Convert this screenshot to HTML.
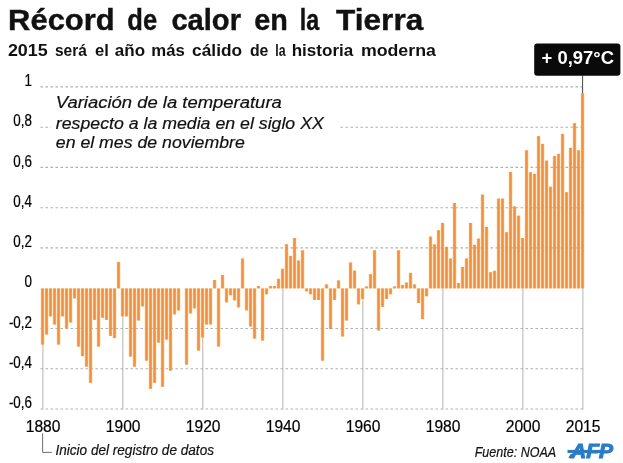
<!DOCTYPE html>
<html lang="es"><head><meta charset="utf-8"><title>Récord de calor en la Tierra</title>
<style>
html,body{margin:0;padding:0;background:#fff;}
body{width:623px;height:463px;overflow:hidden;position:relative;font-family:"Liberation Sans",sans-serif;}
svg{position:absolute;left:0;top:0;display:block;}
text{font-family:"Liberation Sans",sans-serif;fill:#111;}
.it{font-style:italic;stroke:#111;stroke-width:0.2;}
.lb{fill:#000;stroke:#000;stroke-width:0.2;}
.b{font-weight:bold;}
</style></head><body>
<svg width="623" height="463" viewBox="0 0 623 463">
<rect width="623" height="463" fill="#fff"/>

<g stroke="#b0b0b0" stroke-width="1.1" stroke-dasharray="2.5,2.5" fill="none">
<line x1="40.5" y1="86.9" x2="582" y2="86.9"/>
<line x1="40.5" y1="127.2" x2="584.5" y2="127.2"/>
<line x1="40.5" y1="167.4" x2="584.5" y2="167.4"/>
<line x1="40.5" y1="207.7" x2="584.5" y2="207.7"/>
<line x1="40.5" y1="247.9" x2="584.5" y2="247.9"/>
<line x1="40.5" y1="328.5" x2="584.5" y2="328.5"/>
<line x1="40.5" y1="368.7" x2="584.5" y2="368.7"/>
<line x1="40.5" y1="409.0" x2="584.5" y2="409.0"/>
</g>
<g stroke="#b2b2b2" stroke-width="1" fill="none">
<line x1="42.9" y1="344.6" x2="42.9" y2="409.4"/>
<line x1="122.8" y1="316.4" x2="122.8" y2="409.4"/>
<line x1="202.8" y1="337.5" x2="202.8" y2="409.4"/>
<line x1="282.9" y1="288.3" x2="282.9" y2="409.4"/>
<line x1="362.9" y1="299.0" x2="362.9" y2="409.4"/>
<line x1="442.9" y1="288.3" x2="442.9" y2="409.4"/>
<line x1="522.9" y1="288.3" x2="522.9" y2="409.4"/>
<line x1="582.9" y1="288.3" x2="582.9" y2="409.4"/>
</g>
<rect x="51" y="92" width="287" height="62" fill="#fff"/>
<g fill="#f8c068" opacity="0.45">
<rect x="40.53" y="288.4" width="4" height="56.2"/>
<rect x="44.53" y="288.4" width="4" height="46.1"/>
<rect x="48.53" y="288.4" width="4" height="28.0"/>
<rect x="52.53" y="288.4" width="4" height="36.1"/>
<rect x="56.53" y="288.4" width="4" height="56.2"/>
<rect x="60.53" y="288.4" width="4" height="28.0"/>
<rect x="64.53" y="288.4" width="4" height="40.1"/>
<rect x="68.53" y="288.4" width="4" height="34.1"/>
<rect x="72.53" y="288.4" width="4" height="10.0"/>
<rect x="76.53" y="288.4" width="4" height="58.2"/>
<rect x="80.53" y="288.4" width="4" height="67.8"/>
<rect x="84.53" y="288.4" width="4" height="78.3"/>
<rect x="88.53" y="288.4" width="4" height="94.4"/>
<rect x="92.53" y="288.4" width="4" height="31.5"/>
<rect x="96.53" y="288.4" width="4" height="58.2"/>
<rect x="100.53" y="288.4" width="4" height="29.4"/>
<rect x="104.53" y="288.4" width="4" height="31.5"/>
<rect x="108.53" y="288.4" width="4" height="47.5"/>
<rect x="112.53" y="288.4" width="4" height="49.7"/>
<rect x="116.53" y="261.9" width="4" height="26.5"/>
<rect x="120.53" y="288.4" width="4" height="28.0"/>
<rect x="124.53" y="288.4" width="4" height="28.0"/>
<rect x="128.53" y="288.4" width="4" height="68.2"/>
<rect x="132.53" y="288.4" width="4" height="78.3"/>
<rect x="136.53" y="288.4" width="4" height="32.1"/>
<rect x="140.53" y="288.4" width="4" height="18.0"/>
<rect x="144.53" y="288.4" width="4" height="72.3"/>
<rect x="148.53" y="288.4" width="4" height="100.4"/>
<rect x="152.53" y="288.4" width="4" height="94.4"/>
<rect x="156.53" y="288.4" width="4" height="54.2"/>
<rect x="160.53" y="288.4" width="4" height="98.4"/>
<rect x="164.53" y="288.4" width="4" height="51.2"/>
<rect x="168.53" y="288.4" width="4" height="82.3"/>
<rect x="172.53" y="288.4" width="4" height="26.0"/>
<rect x="176.53" y="288.4" width="4" height="22.0"/>
<rect x="184.53" y="288.4" width="4" height="76.3"/>
<rect x="188.53" y="288.4" width="4" height="25.0"/>
<rect x="192.53" y="288.4" width="4" height="20.0"/>
<rect x="196.53" y="288.4" width="4" height="62.2"/>
<rect x="200.53" y="288.4" width="4" height="49.1"/>
<rect x="204.53" y="288.4" width="4" height="36.1"/>
<rect x="208.53" y="288.4" width="4" height="36.1"/>
<rect x="212.53" y="280.0" width="4" height="8.4"/>
<rect x="216.53" y="288.4" width="4" height="58.2"/>
<rect x="220.53" y="275.0" width="4" height="13.4"/>
<rect x="224.53" y="288.4" width="4" height="14.0"/>
<rect x="228.53" y="288.4" width="4" height="6.9"/>
<rect x="232.53" y="288.4" width="4" height="12.0"/>
<rect x="236.53" y="288.4" width="4" height="19.0"/>
<rect x="240.53" y="258.5" width="4" height="29.9"/>
<rect x="244.53" y="288.4" width="4" height="22.0"/>
<rect x="248.53" y="288.4" width="4" height="38.1"/>
<rect x="252.53" y="288.4" width="4" height="50.2"/>
<rect x="256.53" y="286.0" width="4" height="2.4"/>
<rect x="260.53" y="288.4" width="4" height="52.2"/>
<rect x="264.53" y="288.4" width="4" height="5.9"/>
<rect x="268.53" y="286.0" width="4" height="2.4"/>
<rect x="272.53" y="286.0" width="4" height="2.4"/>
<rect x="276.53" y="278.8" width="4" height="9.6"/>
<rect x="280.53" y="268.8" width="4" height="19.6"/>
<rect x="284.53" y="244.2" width="4" height="44.2"/>
<rect x="288.53" y="255.9" width="4" height="32.5"/>
<rect x="292.53" y="238.0" width="4" height="50.4"/>
<rect x="296.53" y="260.5" width="4" height="27.9"/>
<rect x="300.53" y="250.3" width="4" height="38.1"/>
<rect x="304.53" y="288.4" width="4" height="2.9"/>
<rect x="308.53" y="288.4" width="4" height="5.9"/>
<rect x="312.53" y="288.4" width="4" height="11.6"/>
<rect x="316.53" y="288.4" width="4" height="11.6"/>
<rect x="320.53" y="288.4" width="4" height="72.3"/>
<rect x="324.53" y="284.4" width="4" height="4.0"/>
<rect x="328.53" y="288.4" width="4" height="40.7"/>
<rect x="332.53" y="288.4" width="4" height="11.6"/>
<rect x="336.53" y="280.4" width="4" height="8.0"/>
<rect x="340.53" y="288.4" width="4" height="48.1"/>
<rect x="344.53" y="288.4" width="4" height="32.1"/>
<rect x="348.53" y="262.5" width="4" height="25.9"/>
<rect x="352.53" y="270.6" width="4" height="17.8"/>
<rect x="356.53" y="288.4" width="4" height="16.0"/>
<rect x="360.53" y="288.4" width="4" height="10.6"/>
<rect x="364.53" y="286.4" width="4" height="2.0"/>
<rect x="368.53" y="274.2" width="4" height="14.2"/>
<rect x="372.53" y="250.3" width="4" height="38.1"/>
<rect x="376.53" y="288.4" width="4" height="42.1"/>
<rect x="380.53" y="288.4" width="4" height="18.4"/>
<rect x="384.53" y="288.4" width="4" height="10.6"/>
<rect x="388.53" y="288.4" width="4" height="5.9"/>
<rect x="392.53" y="286.4" width="4" height="2.0"/>
<rect x="396.53" y="250.3" width="4" height="38.1"/>
<rect x="400.53" y="285.0" width="4" height="3.4"/>
<rect x="404.53" y="282.6" width="4" height="5.8"/>
<rect x="408.53" y="272.8" width="4" height="15.6"/>
<rect x="412.53" y="284.4" width="4" height="4.0"/>
<rect x="416.53" y="288.4" width="4" height="14.6"/>
<rect x="420.53" y="288.4" width="4" height="30.7"/>
<rect x="424.53" y="288.4" width="4" height="7.9"/>
<rect x="428.53" y="236.6" width="4" height="51.8"/>
<rect x="432.53" y="244.4" width="4" height="44.0"/>
<rect x="436.53" y="230.2" width="4" height="58.2"/>
<rect x="440.53" y="222.9" width="4" height="65.5"/>
<rect x="444.53" y="246.8" width="4" height="41.6"/>
<rect x="448.53" y="258.5" width="4" height="29.9"/>
<rect x="452.53" y="203.0" width="4" height="85.4"/>
<rect x="456.53" y="283.0" width="4" height="5.4"/>
<rect x="460.53" y="266.9" width="4" height="21.5"/>
<rect x="464.53" y="258.5" width="4" height="29.9"/>
<rect x="468.53" y="222.9" width="4" height="65.5"/>
<rect x="472.53" y="244.8" width="4" height="43.6"/>
<rect x="476.53" y="238.6" width="4" height="49.8"/>
<rect x="480.53" y="194.6" width="4" height="93.8"/>
<rect x="484.53" y="226.9" width="4" height="61.5"/>
<rect x="488.53" y="272.2" width="4" height="16.2"/>
<rect x="492.53" y="270.8" width="4" height="17.6"/>
<rect x="496.53" y="198.6" width="4" height="89.8"/>
<rect x="500.53" y="198.6" width="4" height="89.8"/>
<rect x="504.53" y="232.2" width="4" height="56.2"/>
<rect x="508.53" y="171.9" width="4" height="116.5"/>
<rect x="512.53" y="206.4" width="4" height="82.0"/>
<rect x="516.53" y="215.7" width="4" height="72.7"/>
<rect x="520.53" y="238.0" width="4" height="50.4"/>
<rect x="524.53" y="150.2" width="4" height="138.2"/>
<rect x="528.53" y="172.3" width="4" height="116.1"/>
<rect x="532.53" y="173.9" width="4" height="114.5"/>
<rect x="536.53" y="136.1" width="4" height="152.3"/>
<rect x="540.53" y="143.9" width="4" height="144.5"/>
<rect x="544.53" y="160.6" width="4" height="127.8"/>
<rect x="548.53" y="186.7" width="4" height="101.7"/>
<rect x="552.53" y="156.0" width="4" height="132.4"/>
<rect x="556.53" y="153.8" width="4" height="134.6"/>
<rect x="560.53" y="133.9" width="4" height="154.5"/>
<rect x="564.53" y="192.2" width="4" height="96.2"/>
<rect x="568.53" y="147.8" width="4" height="140.6"/>
<rect x="572.53" y="123.2" width="4" height="165.2"/>
<rect x="576.53" y="150.2" width="4" height="138.2"/>
<rect x="580.53" y="93.1" width="4" height="195.3"/>
</g>
<g fill="#ee8f43">
<rect x="41.25" y="288.4" width="2.55" height="56.2"/>
<rect x="45.25" y="288.4" width="2.55" height="46.1"/>
<rect x="49.25" y="288.4" width="2.55" height="28.0"/>
<rect x="53.25" y="288.4" width="2.55" height="36.1"/>
<rect x="57.25" y="288.4" width="2.55" height="56.2"/>
<rect x="61.25" y="288.4" width="2.55" height="28.0"/>
<rect x="65.25" y="288.4" width="2.55" height="40.1"/>
<rect x="69.25" y="288.4" width="2.55" height="34.1"/>
<rect x="73.25" y="288.4" width="2.55" height="10.0"/>
<rect x="77.25" y="288.4" width="2.55" height="58.2"/>
<rect x="81.25" y="288.4" width="2.55" height="67.8"/>
<rect x="85.25" y="288.4" width="2.55" height="78.3"/>
<rect x="89.25" y="288.4" width="2.55" height="94.4"/>
<rect x="93.25" y="288.4" width="2.55" height="31.5"/>
<rect x="97.25" y="288.4" width="2.55" height="58.2"/>
<rect x="101.25" y="288.4" width="2.55" height="29.4"/>
<rect x="105.25" y="288.4" width="2.55" height="31.5"/>
<rect x="109.25" y="288.4" width="2.55" height="47.5"/>
<rect x="113.25" y="288.4" width="2.55" height="49.7"/>
<rect x="117.25" y="261.9" width="2.55" height="26.5"/>
<rect x="121.25" y="288.4" width="2.55" height="28.0"/>
<rect x="125.25" y="288.4" width="2.55" height="28.0"/>
<rect x="129.25" y="288.4" width="2.55" height="68.2"/>
<rect x="133.25" y="288.4" width="2.55" height="78.3"/>
<rect x="137.25" y="288.4" width="2.55" height="32.1"/>
<rect x="141.25" y="288.4" width="2.55" height="18.0"/>
<rect x="145.25" y="288.4" width="2.55" height="72.3"/>
<rect x="149.25" y="288.4" width="2.55" height="100.4"/>
<rect x="153.25" y="288.4" width="2.55" height="94.4"/>
<rect x="157.25" y="288.4" width="2.55" height="54.2"/>
<rect x="161.25" y="288.4" width="2.55" height="98.4"/>
<rect x="165.25" y="288.4" width="2.55" height="51.2"/>
<rect x="169.25" y="288.4" width="2.55" height="82.3"/>
<rect x="173.25" y="288.4" width="2.55" height="26.0"/>
<rect x="177.25" y="288.4" width="2.55" height="22.0"/>
<rect x="185.25" y="288.4" width="2.55" height="76.3"/>
<rect x="189.25" y="288.4" width="2.55" height="25.0"/>
<rect x="193.25" y="288.4" width="2.55" height="20.0"/>
<rect x="197.25" y="288.4" width="2.55" height="62.2"/>
<rect x="201.25" y="288.4" width="2.55" height="49.1"/>
<rect x="205.25" y="288.4" width="2.55" height="36.1"/>
<rect x="209.25" y="288.4" width="2.55" height="36.1"/>
<rect x="213.25" y="280.0" width="2.55" height="8.4"/>
<rect x="217.25" y="288.4" width="2.55" height="58.2"/>
<rect x="221.25" y="275.0" width="2.55" height="13.4"/>
<rect x="225.25" y="288.4" width="2.55" height="14.0"/>
<rect x="229.25" y="288.4" width="2.55" height="6.9"/>
<rect x="233.25" y="288.4" width="2.55" height="12.0"/>
<rect x="237.25" y="288.4" width="2.55" height="19.0"/>
<rect x="241.25" y="258.5" width="2.55" height="29.9"/>
<rect x="245.25" y="288.4" width="2.55" height="22.0"/>
<rect x="249.25" y="288.4" width="2.55" height="38.1"/>
<rect x="253.25" y="288.4" width="2.55" height="50.2"/>
<rect x="257.25" y="286.0" width="2.55" height="2.4"/>
<rect x="261.25" y="288.4" width="2.55" height="52.2"/>
<rect x="265.25" y="288.4" width="2.55" height="5.9"/>
<rect x="269.25" y="286.0" width="2.55" height="2.4"/>
<rect x="273.25" y="286.0" width="2.55" height="2.4"/>
<rect x="277.25" y="278.8" width="2.55" height="9.6"/>
<rect x="281.25" y="268.8" width="2.55" height="19.6"/>
<rect x="285.25" y="244.2" width="2.55" height="44.2"/>
<rect x="289.25" y="255.9" width="2.55" height="32.5"/>
<rect x="293.25" y="238.0" width="2.55" height="50.4"/>
<rect x="297.25" y="260.5" width="2.55" height="27.9"/>
<rect x="301.25" y="250.3" width="2.55" height="38.1"/>
<rect x="305.25" y="288.4" width="2.55" height="2.9"/>
<rect x="309.25" y="288.4" width="2.55" height="5.9"/>
<rect x="313.25" y="288.4" width="2.55" height="11.6"/>
<rect x="317.25" y="288.4" width="2.55" height="11.6"/>
<rect x="321.25" y="288.4" width="2.55" height="72.3"/>
<rect x="325.25" y="284.4" width="2.55" height="4.0"/>
<rect x="329.25" y="288.4" width="2.55" height="40.7"/>
<rect x="333.25" y="288.4" width="2.55" height="11.6"/>
<rect x="337.25" y="280.4" width="2.55" height="8.0"/>
<rect x="341.25" y="288.4" width="2.55" height="48.1"/>
<rect x="345.25" y="288.4" width="2.55" height="32.1"/>
<rect x="349.25" y="262.5" width="2.55" height="25.9"/>
<rect x="353.25" y="270.6" width="2.55" height="17.8"/>
<rect x="357.25" y="288.4" width="2.55" height="16.0"/>
<rect x="361.25" y="288.4" width="2.55" height="10.6"/>
<rect x="365.25" y="286.4" width="2.55" height="2.0"/>
<rect x="369.25" y="274.2" width="2.55" height="14.2"/>
<rect x="373.25" y="250.3" width="2.55" height="38.1"/>
<rect x="377.25" y="288.4" width="2.55" height="42.1"/>
<rect x="381.25" y="288.4" width="2.55" height="18.4"/>
<rect x="385.25" y="288.4" width="2.55" height="10.6"/>
<rect x="389.25" y="288.4" width="2.55" height="5.9"/>
<rect x="393.25" y="286.4" width="2.55" height="2.0"/>
<rect x="397.25" y="250.3" width="2.55" height="38.1"/>
<rect x="401.25" y="285.0" width="2.55" height="3.4"/>
<rect x="405.25" y="282.6" width="2.55" height="5.8"/>
<rect x="409.25" y="272.8" width="2.55" height="15.6"/>
<rect x="413.25" y="284.4" width="2.55" height="4.0"/>
<rect x="417.25" y="288.4" width="2.55" height="14.6"/>
<rect x="421.25" y="288.4" width="2.55" height="30.7"/>
<rect x="425.25" y="288.4" width="2.55" height="7.9"/>
<rect x="429.25" y="236.6" width="2.55" height="51.8"/>
<rect x="433.25" y="244.4" width="2.55" height="44.0"/>
<rect x="437.25" y="230.2" width="2.55" height="58.2"/>
<rect x="441.25" y="222.9" width="2.55" height="65.5"/>
<rect x="445.25" y="246.8" width="2.55" height="41.6"/>
<rect x="449.25" y="258.5" width="2.55" height="29.9"/>
<rect x="453.25" y="203.0" width="2.55" height="85.4"/>
<rect x="457.25" y="283.0" width="2.55" height="5.4"/>
<rect x="461.25" y="266.9" width="2.55" height="21.5"/>
<rect x="465.25" y="258.5" width="2.55" height="29.9"/>
<rect x="469.25" y="222.9" width="2.55" height="65.5"/>
<rect x="473.25" y="244.8" width="2.55" height="43.6"/>
<rect x="477.25" y="238.6" width="2.55" height="49.8"/>
<rect x="481.25" y="194.6" width="2.55" height="93.8"/>
<rect x="485.25" y="226.9" width="2.55" height="61.5"/>
<rect x="489.25" y="272.2" width="2.55" height="16.2"/>
<rect x="493.25" y="270.8" width="2.55" height="17.6"/>
<rect x="497.25" y="198.6" width="2.55" height="89.8"/>
<rect x="501.25" y="198.6" width="2.55" height="89.8"/>
<rect x="505.25" y="232.2" width="2.55" height="56.2"/>
<rect x="509.25" y="171.9" width="2.55" height="116.5"/>
<rect x="513.25" y="206.4" width="2.55" height="82.0"/>
<rect x="517.25" y="215.7" width="2.55" height="72.7"/>
<rect x="521.25" y="238.0" width="2.55" height="50.4"/>
<rect x="525.25" y="150.2" width="2.55" height="138.2"/>
<rect x="529.25" y="172.3" width="2.55" height="116.1"/>
<rect x="533.25" y="173.9" width="2.55" height="114.5"/>
<rect x="537.25" y="136.1" width="2.55" height="152.3"/>
<rect x="541.25" y="143.9" width="2.55" height="144.5"/>
<rect x="545.25" y="160.6" width="2.55" height="127.8"/>
<rect x="549.25" y="186.7" width="2.55" height="101.7"/>
<rect x="553.25" y="156.0" width="2.55" height="132.4"/>
<rect x="557.25" y="153.8" width="2.55" height="134.6"/>
<rect x="561.25" y="133.9" width="2.55" height="154.5"/>
<rect x="565.25" y="192.2" width="2.55" height="96.2"/>
<rect x="569.25" y="147.8" width="2.55" height="140.6"/>
<rect x="573.25" y="123.2" width="2.55" height="165.2"/>
<rect x="577.25" y="150.2" width="2.55" height="138.2"/>
<rect x="581.25" y="93.1" width="2.55" height="195.3"/>
</g>
<text class="b" y="29.5" font-size="29" style="stroke:#111;stroke-width:0.4"><tspan x="8.13" textLength="106.49" lengthAdjust="spacingAndGlyphs">Récord</tspan> <tspan x="127.32" textLength="29.79" lengthAdjust="spacingAndGlyphs">de</tspan> <tspan x="171.4" textLength="69.59" lengthAdjust="spacingAndGlyphs">calor</tspan> <tspan x="254.21" textLength="33.59" lengthAdjust="spacingAndGlyphs">en</tspan> <tspan x="299.8" textLength="19.41" lengthAdjust="spacingAndGlyphs">la</tspan> <tspan x="336.1" textLength="87.15" lengthAdjust="spacingAndGlyphs">Tierra</tspan></text>
<text class="b" y="55.9" font-size="16.2" ><tspan x="7.9" textLength="39.8" lengthAdjust="spacingAndGlyphs">2015</tspan> <tspan x="54.9" textLength="31.94" lengthAdjust="spacingAndGlyphs">será</tspan> <tspan x="95.0" textLength="13.81" lengthAdjust="spacingAndGlyphs">el</tspan> <tspan x="114.8" textLength="30.28" lengthAdjust="spacingAndGlyphs">año</tspan> <tspan x="151.36" textLength="33.54" lengthAdjust="spacingAndGlyphs">más</tspan> <tspan x="192.1" textLength="49.98" lengthAdjust="spacingAndGlyphs">cálido</tspan> <tspan x="249.9" textLength="18.5" lengthAdjust="spacingAndGlyphs">de</tspan> <tspan x="275.34" textLength="10.3" lengthAdjust="spacingAndGlyphs">la</tspan> <tspan x="291.65" textLength="61.6" lengthAdjust="spacingAndGlyphs">historia</tspan> <tspan x="360.9" textLength="75.0" lengthAdjust="spacingAndGlyphs">moderna</tspan></text>
<text transform="translate(32,86.1) scale(0.86,1)" font-size="15.6" class="lb" text-anchor="end">1</text>
<text transform="translate(32,126.2) scale(0.86,1)" font-size="15.6" class="lb" text-anchor="end">0,8</text>
<text transform="translate(32,166.5) scale(0.86,1)" font-size="15.6" class="lb" text-anchor="end">0,6</text>
<text transform="translate(32,206.7) scale(0.86,1)" font-size="15.6" class="lb" text-anchor="end">0,4</text>
<text transform="translate(32,246.9) scale(0.86,1)" font-size="15.6" class="lb" text-anchor="end">0,2</text>
<text transform="translate(32,287.3) scale(0.86,1)" font-size="15.6" class="lb" text-anchor="end">0</text>
<text transform="translate(32,327.5) scale(0.86,1)" font-size="15.6" class="lb" text-anchor="end">-0,2</text>
<text transform="translate(32,367.7) scale(0.86,1)" font-size="15.6" class="lb" text-anchor="end">-0,4</text>
<text transform="translate(32,407.9) scale(0.86,1)" font-size="15.6" class="lb" text-anchor="end">-0,6</text>
<text x="43.1" y="432.1" font-size="15.6" class="lb" text-anchor="middle">1880</text>
<text x="123.2" y="432.1" font-size="15.6" class="lb" text-anchor="middle">1900</text>
<text x="203.2" y="432.1" font-size="15.6" class="lb" text-anchor="middle">1920</text>
<text x="283.1" y="432.1" font-size="15.6" class="lb" text-anchor="middle">1940</text>
<text x="363.1" y="432.1" font-size="15.6" class="lb" text-anchor="middle">1960</text>
<text x="443.1" y="432.1" font-size="15.6" class="lb" text-anchor="middle">1980</text>
<text x="523.1" y="432.1" font-size="15.6" class="lb" text-anchor="middle">2000</text>
<text x="583.1" y="432.1" font-size="15.6" class="lb" text-anchor="middle">2015</text>
<text class="it" x="55.8" y="108.1" font-size="17.3" textLength="226" lengthAdjust="spacingAndGlyphs">Variación de la temperatura</text>
<text class="it" x="55.8" y="128.9" font-size="17.3" textLength="268" lengthAdjust="spacingAndGlyphs">respecto a la media en el siglo XX</text>
<text class="it" x="55.8" y="148.2" font-size="17.3" textLength="189" lengthAdjust="spacingAndGlyphs">en el mes de noviembre</text>
<rect x="534.2" y="43.4" width="86.2" height="32.4" rx="3" fill="#0a0a0a"/>
<line x1="582.6" y1="75" x2="582.6" y2="93" stroke="#333" stroke-width="0.9"/>
<text class="b" x="541.5" y="64" font-size="17.8" textLength="72.5" lengthAdjust="spacingAndGlyphs" style="fill:#fff">+ 0,97°C</text>
<path d="M42.6 433.4 V452.4 H51.8" stroke="#6e6e6e" stroke-width="1" fill="none"/>
<text class="it" x="55.4" y="454.8" font-size="14.6" textLength="158.6" lengthAdjust="spacingAndGlyphs">Inicio del registro de datos</text>
<text class="it" x="474.7" y="457.3" font-size="14.6" textLength="81.5" lengthAdjust="spacingAndGlyphs">Fuente: NOAA</text>
<text class="b it" x="571" y="458" font-size="20" textLength="42" lengthAdjust="spacingAndGlyphs" style="fill:#2b7cc5;stroke:#2b7cc5;stroke-width:1.1">AFP</text>
<rect x="567.5" y="449.9" width="34" height="3.1" fill="#2b7cc5"/><path d="M568.3 458 L570.6 454 H574.4 L572.1 458 Z" fill="#2b7cc5"/>
</svg></body></html>
